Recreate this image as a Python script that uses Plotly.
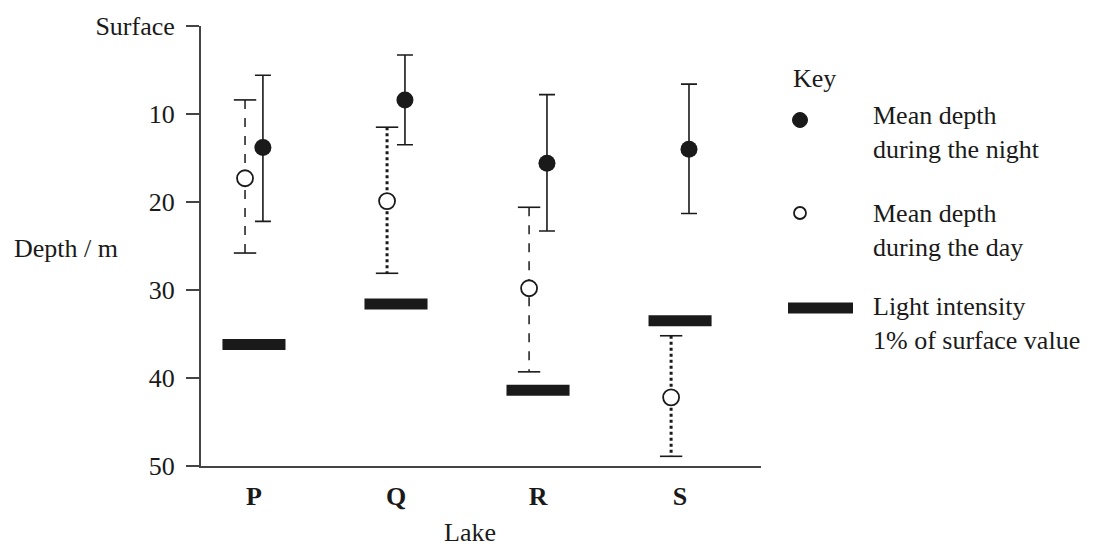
import plotly.graph_objects as go

# ---- data ----
lakes = ["P", "Q", "R", "S"]
night_mean = [13.8, 8.4, 15.6, 14.0]
night_top = [5.6, 3.3, 7.8, 6.6]
night_bottom = [22.2, 13.5, 23.3, 21.3]
day_mean = [17.3, 19.9, 29.8, 42.2]
day_top = [8.4, 11.5, 20.6, 35.2]
day_bottom = [25.8, 28.1, 39.3, 48.9]
light_1pct = [36.2, 31.6, 41.4, 33.5]
y_tickvals = [0, 10, 20, 30, 40, 50]
y_ticktext = ["Surface", "10", "20", "30", "40", "50"]

# ---- layout constants ----
W, H = 1108, 547
L, R, T, B = 201, 1108 - 761, 26, 547 - 466
PW, PH = W - L - R, H - T - B
INK = "#1a1a1a"
FONT = "Liberation Serif"
FS = 26
off = 0.063          # horizontal offset of night / day points
half_bar = 0.222     # half width of light bars
day_dash = ["dash", "dot", "dash", "dot"]
day_width = [1.5, 3, 1.5, 3]

idx = list(range(len(lakes)))
x_night = [i + off for i in idx]
x_day = [i - off for i in idx]

fig = go.Figure()

# light-intensity bars
bx, by = [], []
for i, v in zip(idx, light_1pct):
    bx += [i - half_bar, i + half_bar, None]
    by += [v, v, None]
fig.add_trace(go.Scatter(x=bx, y=by, mode="lines",
                         line=dict(color=INK, width=11), hoverinfo="skip",
                         showlegend=False))

# day ranges (dashed whiskers + caps)
for i in idx:
    fig.add_trace(go.Scatter(x=[x_day[i], x_day[i]], y=[day_top[i], day_bottom[i]],
                             mode="lines",
                             line=dict(color=INK, width=day_width[i], dash=day_dash[i]),
                             showlegend=False, hoverinfo="skip"))
fig.add_trace(go.Scatter(x=x_day + x_day, y=day_top + day_bottom, mode="markers",
                         marker=dict(symbol="line-ew", size=16,
                                     line=dict(color=INK, width=1.6)),
                         showlegend=False, hoverinfo="skip"))
# day means
fig.add_trace(go.Scatter(x=x_day, y=day_mean, mode="markers",
                         marker=dict(symbol="circle", size=16, color="white",
                                     line=dict(color=INK, width=1.8)),
                         showlegend=False))

# night means with solid error bars
fig.add_trace(go.Scatter(
    x=x_night, y=night_mean, mode="markers",
    marker=dict(symbol="circle", size=17, color=INK),
    error_y=dict(type="data", symmetric=False,
                 array=[b - m for b, m in zip(night_bottom, night_mean)],
                 arrayminus=[m - t for m, t in zip(night_mean, night_top)],
                 color=INK, thickness=1.6, width=8),
    showlegend=False))

fig.update_layout(
    width=W, height=H,
    margin=dict(l=L, r=R, t=T, b=B, autoexpand=False),
    paper_bgcolor="white", plot_bgcolor="white",
    font=dict(family=FONT, size=FS, color=INK),
    showlegend=False,
    xaxis=dict(range=[-0.373, 3.57], tickvals=idx, ticktext=lakes,
               showgrid=False, zeroline=False, showline=True,
               linecolor="#444", linewidth=2, ticks="", ticklabelstandoff=6,
               tickfont=dict(family=FONT, size=FS, color=INK, weight="bold"),
               fixedrange=True),
    yaxis=dict(range=[50, 0], tickvals=y_tickvals, ticktext=y_ticktext,
               showgrid=False, zeroline=False, showline=True,
               linecolor="#444", linewidth=2, ticks="outside", ticklen=13,
               tickcolor="#444", tickwidth=2, ticklabelstandoff=6,
               tickfont=dict(family=FONT, size=FS, color=INK),
               fixedrange=True),
)

def px(xp):
    return (xp - L) / PW

def py(yp):
    return (H - B - yp) / PH

ann = [
    dict(text="Depth / m", x=px(12), y=py(248), xanchor="left", yanchor="middle"),
    dict(text="Lake", x=px(470), y=py(532), xanchor="center", yanchor="middle"),
    dict(text="Key", x=px(791), y=py(78), xanchor="left", yanchor="middle"),
    dict(text="Mean depth<br>during the night", x=px(871), y=py(132),
         xanchor="left", yanchor="middle", align="left"),
    dict(text="Mean depth<br>during the day", x=px(871), y=py(230),
         xanchor="left", yanchor="middle", align="left"),
    dict(text="Light intensity<br>1% of surface value", x=px(871), y=py(323),
         xanchor="left", yanchor="middle", align="left"),
]
for a in ann:
    a.update(xref="paper", yref="paper", showarrow=False,
             font=dict(family=FONT, size=FS, color=INK))
    fig.add_annotation(**a)

# key glyphs
fig.add_shape(type="circle", xref="paper", yref="paper", xsizemode="pixel",
              ysizemode="pixel", xanchor=px(800), yanchor=py(120),
              x0=-7.5, x1=7.5, y0=-7.5, y1=7.5, fillcolor=INK, line=dict(color=INK, width=1))
fig.add_shape(type="circle", xref="paper", yref="paper", xsizemode="pixel",
              ysizemode="pixel", xanchor=px(800), yanchor=py(213),
              x0=-6, x1=6, y0=-6, y1=6, fillcolor="white", line=dict(color=INK, width=1.8))
fig.add_shape(type="rect", xref="paper", yref="paper", x0=px(788), x1=px(853),
              y0=py(302.5), y1=py(313.5), fillcolor=INK, line=dict(width=0))

fig.write_html("out.html")
